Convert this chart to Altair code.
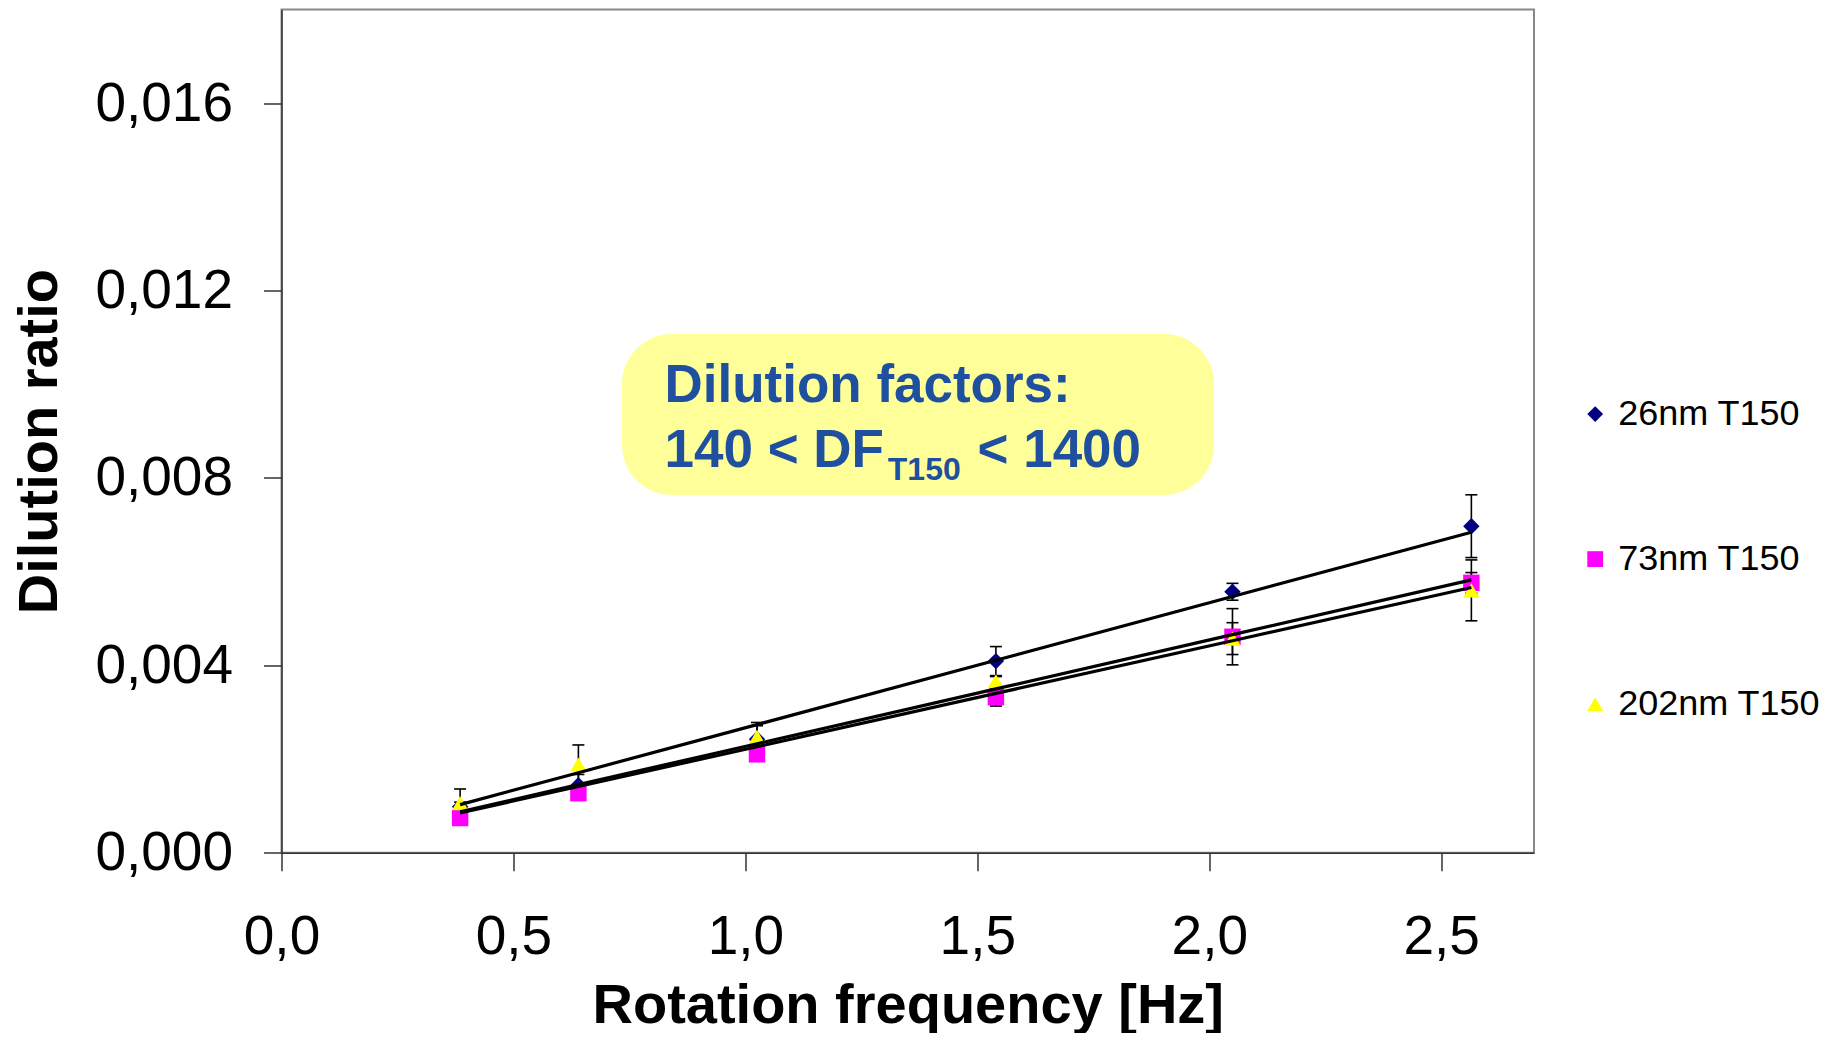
import altair as alt
import pandas as pd

series_names = ["26nm T150", "73nm T150", "202nm T150"]
series_colors = ["#000080", "#FF00FF", "#FFFF00"]
series_shapes = ["diamond", "square", "triangle-up"]

freq = [0.385, 0.64, 1.025, 1.54, 2.05, 2.565]
ratio_26 = [0.00098, 0.00144, 0.00242, 0.00409, 0.00557, 0.00697]
err_26 = [0.00010, 0.00023, 0.00029, 0.00031, 0.00018, 0.00067]
ratio_73 = [0.00074, 0.00127, 0.00210, 0.00332, 0.00461, 0.00576]
err_73 = [0.00005, 0.00005, 0.00008, 0.00019, 0.00060, 0.00022]
ratio_202 = [0.00106, 0.00188, 0.00247, 0.00366, 0.00457, 0.00560]
err_202 = [0.00030, 0.00042, 0.00031, 0.00010, 0.00034, 0.00065]

x_ticks = [0.0, 0.5, 1.0, 1.5, 2.0, 2.5]
y_ticks = [0.0, 0.004, 0.008, 0.012, 0.016]

rows = []
for name, ys, es in zip(series_names, [ratio_26, ratio_73, ratio_202], [err_26, err_73, err_202]):
    for f, r, e in zip(freq, ys, es):
        rows.append({"series": name, "freq": f, "ratio": r, "lo": r - e, "hi": r + e})
df = pd.DataFrame(rows)
one = pd.DataFrame({"k": [0]})

FONT = "Liberation Sans"
W, H = 1252.5, 843.2

x_axis = alt.Axis(values=x_ticks, labelExpr="replace(format(datum.value, '.1f'), '.', ',')",
                  tickSize=18, labelPadding=40, labelFontSize=55, labelFont=FONT, labelColor="black",
                  title="Rotation frequency [Hz]", titleFontSize=56, titleFont=FONT, titleFontWeight="bold",
                  titleColor="black", titlePadding=14, grid=False, domainColor="#333333",
                  domainWidth=1.5, tickColor="#333333", tickWidth=1.5, labelFlush=False)
y_axis = alt.Axis(values=y_ticks, labelExpr="replace(format(datum.value, '.3f'), '.', ',')",
                  tickSize=18, labelPadding=31, labelFontSize=55, labelFont=FONT, labelColor="black",
                  title="Dilution ratio", titleFontSize=56, titleFont=FONT, titleFontWeight="bold",
                  titleColor="black", titlePadding=26, titleY=431.6, grid=False, domainColor="#333333",
                  domainWidth=1.5, tickColor="#333333", tickWidth=1.5, labelFlush=False)
xs = alt.Scale(domain=[0, 2.7], nice=False, zero=False)
ys = alt.Scale(domain=[0, 0.018], nice=False, zero=False)


def X(field):
    return alt.X(f"{field}:Q", scale=xs, axis=x_axis, title="Rotation frequency [Hz]")


def Y(field):
    return alt.Y(f"{field}:Q", scale=ys, axis=y_axis, title="Dilution ratio")


box = alt.Chart(one).mark_rect(color="#FFFF99", cornerRadius=50).encode(
    x=alt.value(340.5), x2=alt.value(932.5), y=alt.value(324.6), y2=alt.value(485.6)
)

rules = alt.Chart(df).mark_rule(color="black", strokeWidth=1.6).encode(
    x=X("freq"), y=Y("lo"), y2="hi:Q"
)
cap_lo = alt.Chart(df).mark_tick(color="black", thickness=1.6, size=12, orient="horizontal", opacity=1).encode(
    x=X("freq"), y=Y("lo")
)
cap_hi = alt.Chart(df).mark_tick(color="black", thickness=1.6, size=12, orient="horizontal", opacity=1).encode(
    x=X("freq"), y=Y("hi")
)

leg = alt.Legend(orient="none", legendX=1295.7, legendY=386.6, title=None,
                 labelFontSize=36, labelFont=FONT, labelColor="black",
                 symbolSize=250, rowPadding=109, labelOffset=5, padding=0,
                 symbolStrokeWidth=0, labelLimit=500, symbolOpacity=1)

points = alt.Chart(df).mark_point(filled=True, size=270, opacity=1, strokeWidth=0).encode(
    x=X("freq"), y=Y("ratio"),
    color=alt.Color("series:N", scale=alt.Scale(domain=series_names, range=series_colors), legend=leg),
    shape=alt.Shape("series:N", scale=alt.Scale(domain=series_names, range=series_shapes), legend=leg),
)

fits = alt.Chart(df).transform_calculate(
    xy="datum.freq * datum.ratio", xx="datum.freq * datum.freq"
).transform_joinaggregate(
    sxy="sum(xy)", sxx="sum(xx)", groupby=["series"]
).transform_calculate(
    fit="datum.sxy / datum.sxx * datum.freq"
).mark_line(color="black", strokeWidth=3.2).encode(
    x=X("freq"), y=Y("fit"), detail="series:N", order="freq:Q"
)

TXT = "#1F50A0"
t1 = alt.Chart(one).mark_text(text="Dilution factors:", font=FONT, fontSize=53, fontWeight="bold",
                              color=TXT, align="left", baseline="alphabetic").encode(
    x=alt.value(383), y=alt.value(392.3))
t2 = alt.Chart(one).mark_text(text="140 < DF", font=FONT, fontSize=53, fontWeight="bold",
                              color=TXT, align="left", baseline="alphabetic").encode(
    x=alt.value(383), y=alt.value(457.3))
t3 = alt.Chart(one).mark_text(text="T150", font=FONT, fontSize=32, fontWeight="bold",
                              color=TXT, align="left", baseline="alphabetic").encode(
    x=alt.value(606.3), y=alt.value(470.6))
t4 = alt.Chart(one).mark_text(text="< 1400", font=FONT, fontSize=53, fontWeight="bold",
                              color=TXT, align="left", baseline="alphabetic").encode(
    x=alt.value(696), y=alt.value(457.3))

chart = alt.layer(box, rules, cap_lo, cap_hi, points, fits, t1, t2, t3, t4).properties(
    width=W, height=H,
    autosize=alt.AutoSizeParams(type="none"),
    padding={"left": 273.5, "top": 1.5, "right": 297, "bottom": 180},
).configure(font=FONT).configure_view(stroke="#888888", strokeWidth=2)

chart.save("out.html", embed_options={"renderer": "svg", "actions": False})
